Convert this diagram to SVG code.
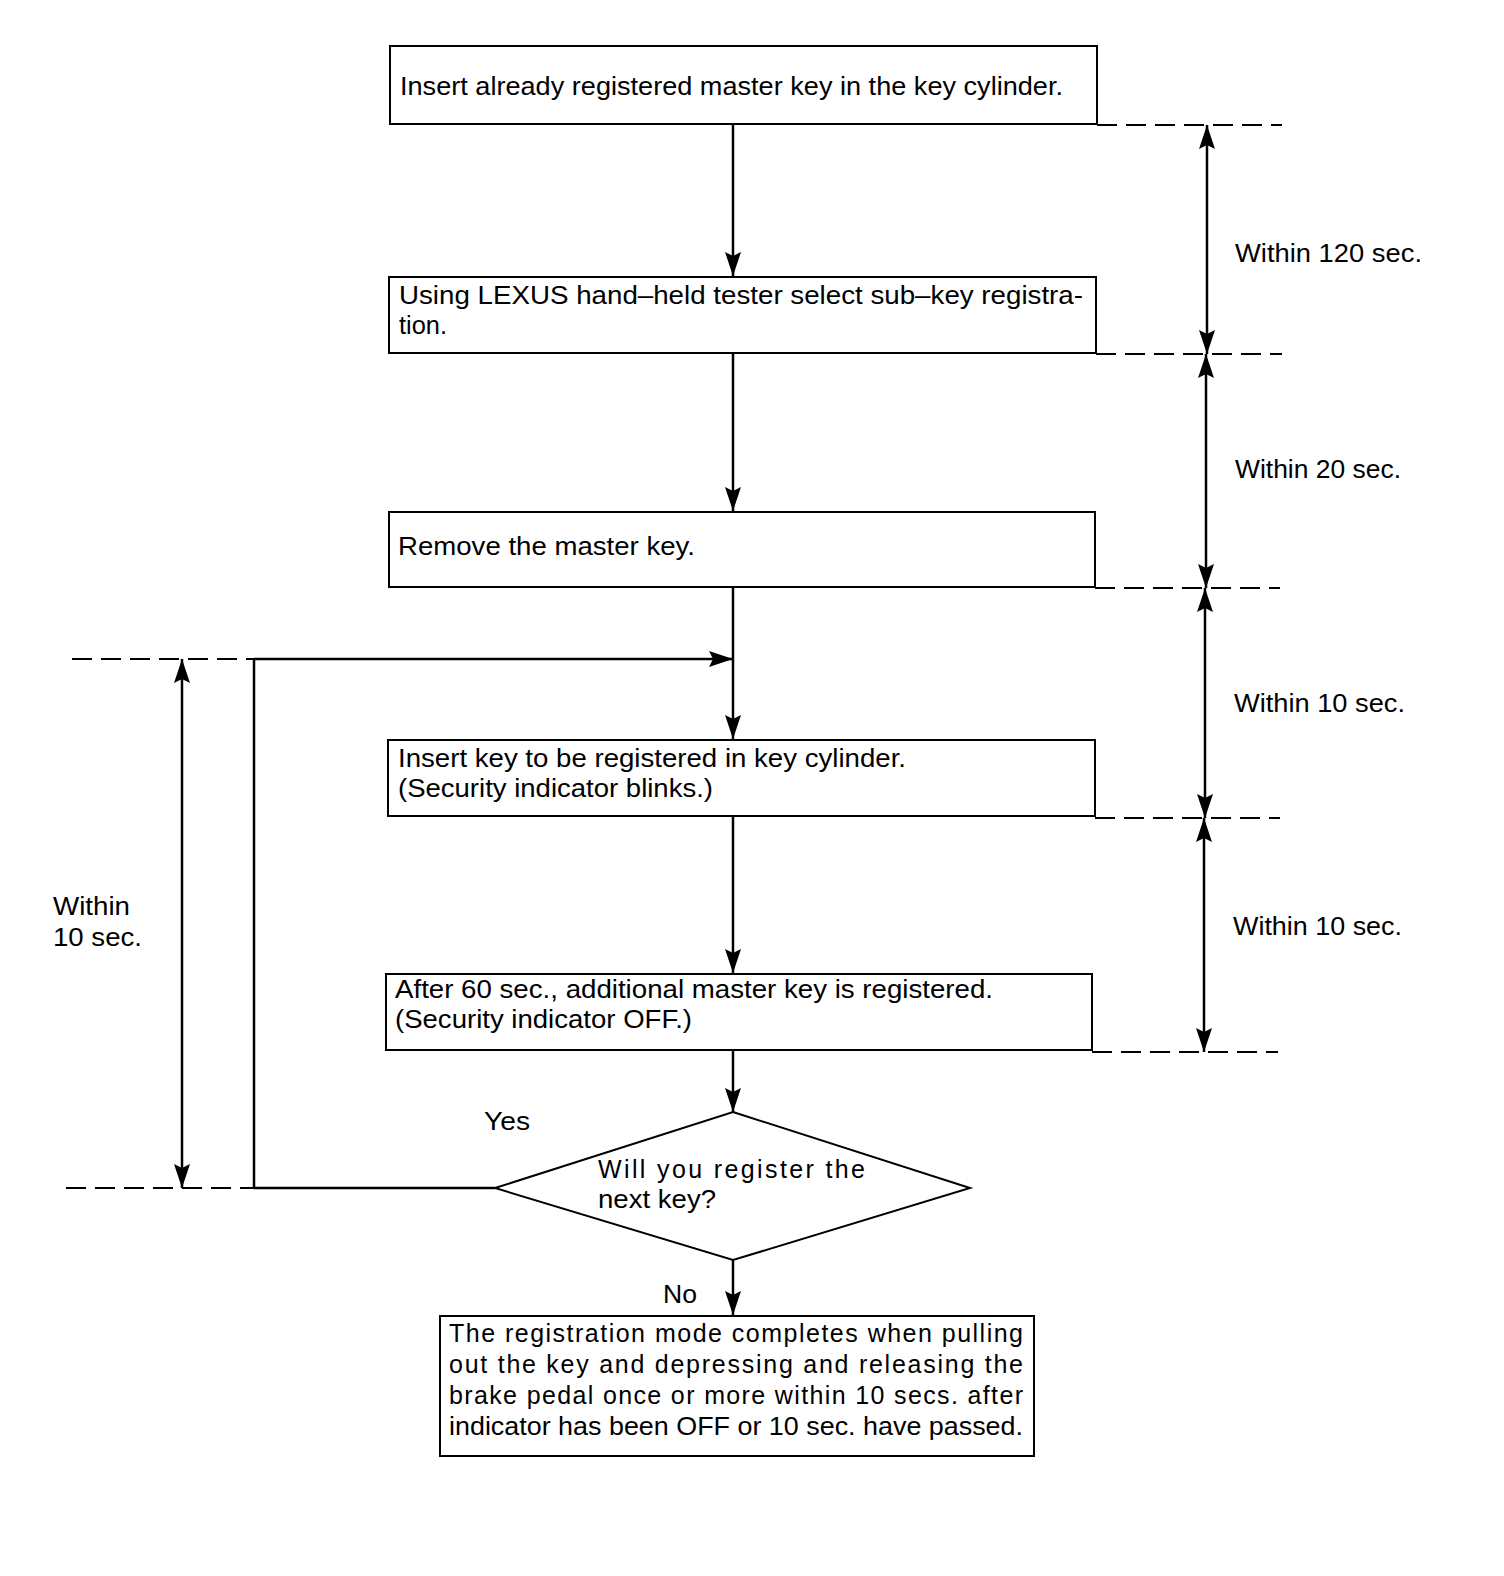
<svg xmlns="http://www.w3.org/2000/svg" width="1504" height="1576" viewBox="0 0 1504 1576">
<style>
.box{fill:#fff;stroke:#000;stroke-width:2}
.ln{stroke:#000;stroke-width:2.5;fill:none}
.dash{stroke:#000;stroke-width:2;fill:none;stroke-dasharray:20,9}
text{font-family:"Liberation Sans",Arial,sans-serif;font-size:25px;fill:#000}
</style>
<defs>
<marker id="ah" viewBox="0 0 24 16" refX="24" refY="8" markerWidth="24" markerHeight="16" markerUnits="userSpaceOnUse" orient="auto">
<path d="M0,0 L24,8 L0,16 L4,8 Z" fill="#000"/>
</marker>
<marker id="as" viewBox="0 0 24 16" refX="0" refY="8" markerWidth="24" markerHeight="16" markerUnits="userSpaceOnUse" orient="auto">
<path d="M24,0 L0,8 L24,16 L20,8 Z" fill="#000"/>
</marker>
</defs>
<g id="connectors">
<line class="ln" x1="733" y1="124" x2="733" y2="276" marker-end="url(#ah)"/>
<line class="ln" x1="733" y1="353" x2="733" y2="511" marker-end="url(#ah)"/>
<line class="ln" x1="733" y1="587" x2="733" y2="739" marker-end="url(#ah)"/>
<line class="ln" x1="254" y1="659" x2="733" y2="659" marker-end="url(#ah)"/>
<line class="ln" x1="254" y1="659" x2="254" y2="1188"/>
<line class="ln" x1="254" y1="1188" x2="495" y2="1188"/>
<line class="ln" x1="733" y1="816" x2="733" y2="973" marker-end="url(#ah)"/>
<line class="ln" x1="733" y1="1050" x2="733" y2="1112" marker-end="url(#ah)"/>
<line class="ln" x1="733" y1="1260" x2="733" y2="1315" marker-end="url(#ah)"/>
</g>
<g id="dimensions">
<line class="dash" x1="1097" y1="125" x2="1282" y2="125"/>
<line class="dash" x1="1096" y1="354" x2="1282" y2="354"/>
<line class="dash" x1="1095" y1="588" x2="1280" y2="588"/>
<line class="dash" x1="1095" y1="818" x2="1280" y2="818"/>
<line class="dash" x1="1092" y1="1052" x2="1278" y2="1052"/>
<line class="ln" x1="1207" y1="125" x2="1207" y2="354" marker-start="url(#as)" marker-end="url(#ah)"/>
<line class="ln" x1="1206" y1="354" x2="1206" y2="588" marker-start="url(#as)" marker-end="url(#ah)"/>
<line class="ln" x1="1205" y1="588" x2="1205" y2="818" marker-start="url(#as)" marker-end="url(#ah)"/>
<line class="ln" x1="1204" y1="818" x2="1204" y2="1052" marker-start="url(#as)" marker-end="url(#ah)"/>
<text x="1235" y="262" textLength="187" lengthAdjust="spacingAndGlyphs">Within 120 sec.</text>
<text x="1235" y="478" textLength="166" lengthAdjust="spacingAndGlyphs">Within 20 sec.</text>
<text x="1234" y="712" textLength="171" lengthAdjust="spacingAndGlyphs">Within 10 sec.</text>
<text x="1233" y="935" textLength="169" lengthAdjust="spacingAndGlyphs">Within 10 sec.</text>
<line class="dash" x1="72" y1="659" x2="254" y2="659"/>
<line class="dash" x1="66" y1="1188" x2="254" y2="1188"/>
<line class="ln" x1="182" y1="659" x2="182" y2="1188" marker-start="url(#as)" marker-end="url(#ah)"/>
<text x="53" y="915" textLength="77" lengthAdjust="spacingAndGlyphs">Within</text>
<text x="53" y="946" textLength="89" lengthAdjust="spacingAndGlyphs">10 sec.</text>
</g>
<g id="n1">
<rect class="box" x="390" y="46" width="707" height="78"/>
<text x="400" y="95" textLength="663" lengthAdjust="spacingAndGlyphs">Insert already registered master key in the key cylinder.</text>
</g>
<g id="n2">
<rect class="box" x="389" y="277" width="707" height="76"/>
<text x="399" y="304" textLength="684" lengthAdjust="spacingAndGlyphs">Using LEXUS hand–held tester select sub–key registra-</text>
<text x="399" y="334" textLength="48" lengthAdjust="spacingAndGlyphs">tion.</text>
</g>
<g id="n3">
<rect class="box" x="389" y="512" width="706" height="75"/>
<text x="398" y="555" textLength="297" lengthAdjust="spacingAndGlyphs">Remove the master key.</text>
</g>
<g id="n4">
<rect class="box" x="388" y="740" width="707" height="76"/>
<text x="398" y="767" textLength="508" lengthAdjust="spacingAndGlyphs">Insert key to be registered in key cylinder.</text>
<text x="398" y="797" textLength="315" lengthAdjust="spacingAndGlyphs">(Security indicator blinks.)</text>
</g>
<g id="n5">
<rect class="box" x="386" y="974" width="706" height="76"/>
<text x="395" y="998" textLength="598" lengthAdjust="spacingAndGlyphs">After 60 sec., additional master key is registered.</text>
<text x="395" y="1028" textLength="297" lengthAdjust="spacingAndGlyphs">(Security indicator OFF.)</text>
</g>
<g id="n6">
<polygon class="box" points="733,1112 970,1188 733,1260 495,1188"/>
<text x="598" y="1178" textLength="267" lengthAdjust="spacing">Will you register the</text>
<text x="598" y="1208" textLength="118" lengthAdjust="spacingAndGlyphs">next key?</text>
<text x="484" y="1130" textLength="46" lengthAdjust="spacingAndGlyphs">Yes</text>
<text x="663" y="1303" textLength="34" lengthAdjust="spacingAndGlyphs">No</text>
</g>
<g id="n7">
<rect class="box" x="440" y="1316" width="594" height="140"/>
<text x="449" y="1342" textLength="574" lengthAdjust="spacing">The registration mode completes when pulling</text>
<text x="449" y="1373" textLength="574" lengthAdjust="spacing">out the key and depressing and releasing the</text>
<text x="449" y="1404" textLength="574" lengthAdjust="spacing">brake pedal once or more within 10 secs. after</text>
<text x="449" y="1435" textLength="574" lengthAdjust="spacingAndGlyphs">indicator has been OFF or 10 sec. have passed.</text>
</g>
</svg>
